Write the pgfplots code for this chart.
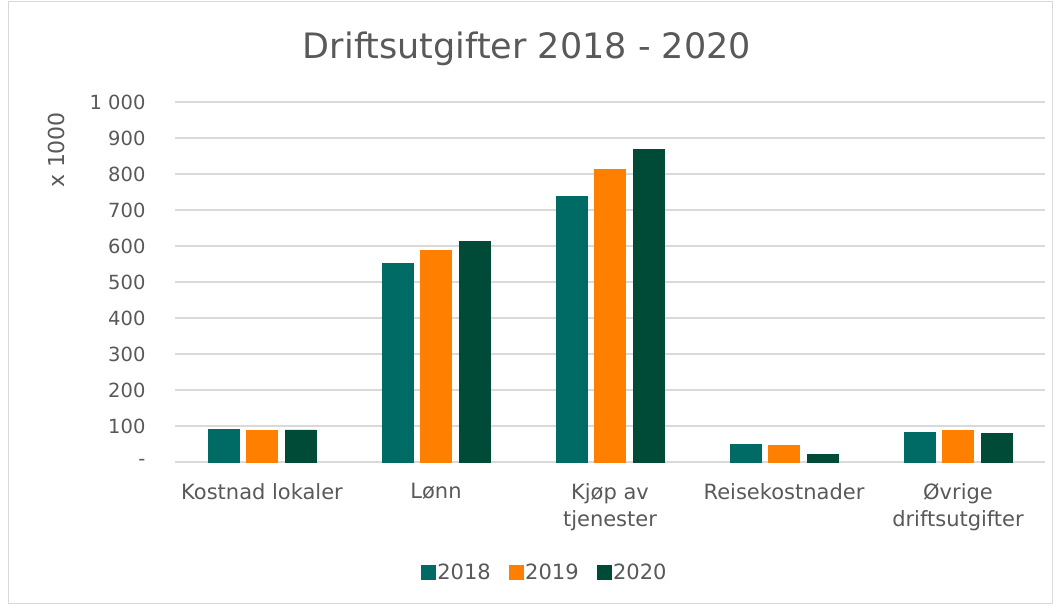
\documentclass[border=0pt]{standalone}
\usepackage{pgfplots}
\pgfplotsset{compat=1.18}
\usepackage{fontspec}
\setmainfont{DejaVu Sans}
\definecolor{cA}{HTML}{006A64}
\definecolor{cB}{HTML}{FF8000}
\definecolor{cC}{HTML}{004B37}
\definecolor{txt}{HTML}{595959}
\definecolor{grd}{HTML}{D9D9D9}
\begin{document}
\begin{tikzpicture}[x=1pt,y=1pt]
\path[use as bounding box] (0,0) rectangle (1059,605);
\draw[grd,line width=1pt] (8,2) rectangle (1052,603);
\begin{axis}[
  at={(175pt,143pt)}, anchor=south west,
  scale only axis, width=870pt, height=360pt,
  ybar=7.5pt, bar width=31pt,
  xmin=-0.5, xmax=4.5, ymin=0, ymax=1000,
  xtick={0,1,2,3,4},
  xticklabels={Kostnad lokaler, Lønn, {Kjøp av\\tjenester}, Reisekostnader, {Øvrige\\driftsutgifter}},
  xticklabel style={align=center, font=\fontsize{21}{27}\selectfont, text=txt, yshift=-18pt},
  ytick={0,100,...,1000},
  yticklabels={-,100,200,300,400,500,600,700,800,900,1 000},
  yticklabel style={font=\fontsize{19.5}{22}\selectfont, text=txt, xshift=-26pt},
  ymajorgrids, grid style={grd, line width=1.4pt},
  axis line style={draw=none},
  major tick length=0pt,
  legend style={at={(0.425,-0.3056)}, anchor=center, draw=none, legend columns=3,
    font=\fontsize{21}{24}\selectfont, text=txt,
    /tikz/every even column/.append style={column sep=16pt}},
  legend image code/.code={\fill[#1] (0pt,-7pt) rectangle (14pt,7pt);},
]
\addplot[fill=cA, draw=cA] coordinates {(0,91) (1,552) (2,738) (3,49) (4,82)};
\addplot[fill=cB, draw=cB] coordinates {(0,88) (1,588) (2,813) (3,46) (4,88)};
\addplot[fill=cC, draw=cC] coordinates {(0,89) (1,613) (2,869) (3,21) (4,79)};
\legend{2018,2019,2020}
\end{axis}
\node[text=txt, font=\fontsize{35}{40}\selectfont] at (527,556) {Driftsutgifter 2018 - 2020};
\node[rotate=90, text=txt, font=\fontsize{22}{24}\selectfont] at (56,455) {x 1000};
\end{tikzpicture}
\end{document}
